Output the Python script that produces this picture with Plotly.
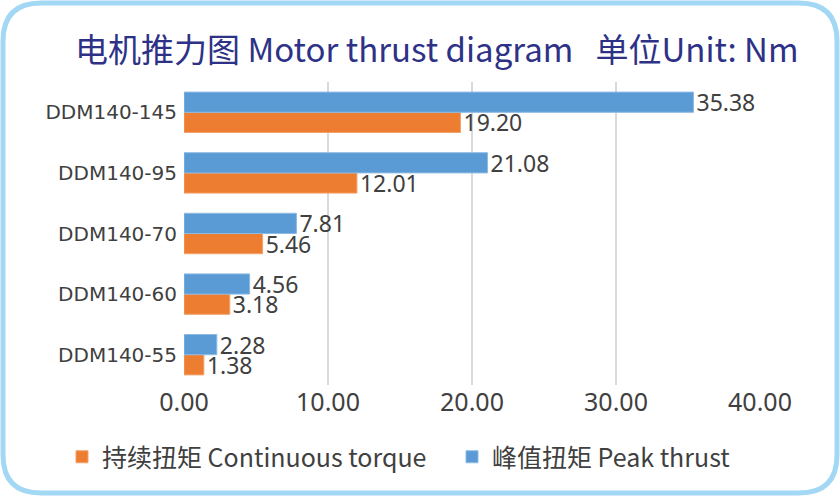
import plotly.graph_objects as go

categories = ["DDM140-55", "DDM140-60", "DDM140-70", "DDM140-95", "DDM140-145"]
continuous = [1.38, 3.18, 5.46, 12.01, 19.20]
peak = [2.28, 4.56, 7.81, 21.08, 35.38]
tick_vals = [0, 10, 20, 30, 40]
tick_text = ["0.00", "10.00", "20.00", "30.00", "40.00"]

W, H = 840, 496
ML, MR, MT, MB = 184, 80, 82, 111
PW, PH = W - ML - MR, H - MT - MB

def px(x):
    return (x - ML) / PW

def py(y):
    return 1 - (y - MT) / PH

label_font = dict(family="Noto Sans, DejaVu Sans, sans-serif", size=23, color="#404040")

fig = go.Figure()
fig.add_trace(go.Bar(
    y=categories, x=continuous, orientation="h", name="持续扭矩 Continuous torque",
    marker=dict(color="#ED7D31", line=dict(color="#F4A26B", width=1)),
    text=[f"{v:.2f}" for v in continuous], textposition="outside",
    textfont=label_font, cliponaxis=False, constraintext="none",
    legendwidth=345,
))
fig.add_trace(go.Bar(
    y=categories, x=peak, orientation="h", name="峰值扭矩 Peak thrust",
    marker=dict(color="#5B9BD5", line=dict(color="#8DBBE4", width=1)),
    text=[f"{v:.2f}" for v in peak], textposition="outside",
    textfont=label_font, cliponaxis=False, constraintext="none",
))

# rounded border
x0, y0, x1, y1, r = 3, 3, 837, 493, 38
path = (
    f"M {px(x0 + r)} {py(y0)} L {px(x1 - r)} {py(y0)} "
    f"Q {px(x1)} {py(y0)} {px(x1)} {py(y0 + r)} "
    f"L {px(x1)} {py(y1 - r)} Q {px(x1)} {py(y1)} {px(x1 - r)} {py(y1)} "
    f"L {px(x0 + r)} {py(y1)} Q {px(x0)} {py(y1)} {px(x0)} {py(y1 - r)} "
    f"L {px(x0)} {py(y0 + r)} Q {px(x0)} {py(y0)} {px(x0 + r)} {py(y0)} Z"
)

fig.update_layout(
    width=W, height=H,
    margin=dict(l=ML, r=MR, t=MT, b=MB),
    paper_bgcolor="white", plot_bgcolor="white",
    barmode="group", bargap=1/3, bargroupgap=0,
    title=dict(
        text="电机推力图 Motor thrust diagram\u00a0\u00a0\u00a0单位Unit: Nm",
        xref="container", yref="container",
        x=75 / W, xanchor="left", y=1 - 50 / H, yanchor="middle",
        font=dict(family="Noto Sans CJK SC, sans-serif", size=33, color="#2E3287"),
    ),
    xaxis=dict(
        range=[0, 40], tickvals=tick_vals, ticktext=tick_text,
        showgrid=True, gridcolor="#D9D9D9", gridwidth=2,
        zeroline=False, showline=False, ticks="",
        tickfont=dict(family="Noto Sans, sans-serif", size=25, color="#404040"),
        fixedrange=True,
    ),
    yaxis=dict(
        categoryorder="array", categoryarray=categories,
        showgrid=False, zeroline=False, showline=False, ticks="",
        ticklabelstandoff=6,
        tickfont=dict(family="DejaVu Sans, sans-serif", size=20, color="#404040"),
    ),
    legend=dict(
        orientation="h", x=px(62), xanchor="left", y=py(457), yanchor="middle",
        font=dict(family="Noto Sans CJK SC, sans-serif", size=25, color="#404040"),
        itemwidth=30, traceorder="normal",
    ),
    shapes=[dict(type="path", xref="paper", yref="paper", path=path,
                 line=dict(color="#A3D8F5", width=5), layer="above")],
    showlegend=True,
)

fig.write_html("out.html")
